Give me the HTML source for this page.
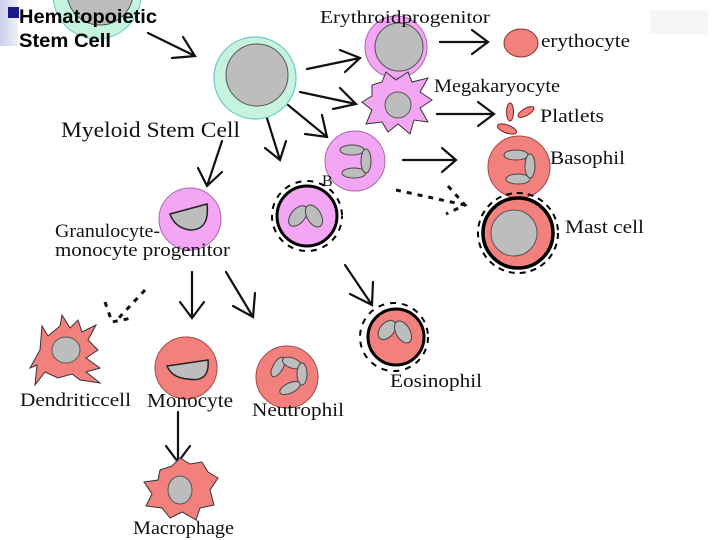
<!DOCTYPE html>
<html><head><meta charset="utf-8"><style>
html,body{margin:0;padding:0;background:#fff}
svg{display:block}
.s{font-family:"Liberation Serif",serif;fill:#111}
</style></head><body>
<svg width="720" height="540" viewBox="0 0 720 540" xmlns="http://www.w3.org/2000/svg">
<defs>
<linearGradient id="g" x1="0" x2="1"><stop offset="0" stop-color="#c9cde6"/><stop offset="1" stop-color="#eef0f8"/></linearGradient>
</defs>
<rect x="0" y="0" width="18" height="46" fill="url(#g)"/>
<rect x="650" y="10" width="58" height="24" fill="#f6f6f6"/>
<circle cx="97" cy="-5" r="44" fill="#c6f3dd" stroke="#6cc" stroke-width="1"/>
<circle cx="100" cy="-8" r="33" fill="#bdbdbd" stroke="#555" stroke-width="1"/>
<rect x="8" y="7" width="11" height="11" fill="#1a1a8c"/>
<text x="19" y="23" font-family="Liberation Sans,sans-serif" font-weight="bold" font-size="19" textLength="138" lengthAdjust="spacingAndGlyphs" fill="#000">Hematopoietic</text>
<text x="19" y="47" font-family="Liberation Sans,sans-serif" font-weight="bold" font-size="19" textLength="92" lengthAdjust="spacingAndGlyphs" fill="#000">Stem Cell</text>
<g stroke="#111" stroke-width="2.2" fill="none" stroke-linecap="round">
<path d="M148 33 L195 56 M172 58 L195 56 L183 37"/>
<path d="M307 69 L360 58 M340 50 L360 58 L345 72"/>
<path d="M300 92 L356 104 M340 88 L356 104 L333 109"/>
<path d="M288 105 L327 137 M322 115 L327 137 L305 134"/>
<path d="M266 115 L280 160 M265 148 L280 160 L286 141"/>
<path d="M222 141 L207 186 M198 168 L207 186 L222 172"/>
<path d="M440 42 L488 42 M472 30 L488 42 L472 54"/>
<path d="M437 114 L494 114 M478 102 L494 114 L478 126"/>
<path d="M403 160 L456 160 M442 148 L456 160 L442 172"/>
<path d="M192 272 L192 318 M180 302 L192 318 L204 302"/>
<path d="M226 272 L253 317 M233 306 L253 317 L255 293"/>
<path d="M345 265 L372 305 M350 294 L372 305 L373 282"/>
<path d="M178 412 L178 462 M166 446 L178 462 L190 446"/>
</g>
<g stroke="#111" stroke-width="3" fill="none" stroke-dasharray="5,6">
<path d="M396 190 L465 205 M448 186 L465 205 L446 214"/>
<path d="M145 290 L115 322 M105 302 L112 322 L132 318"/>
</g>
<circle cx="255" cy="78" r="41" fill="#c6f3dd" stroke="#6cc" stroke-width="1.2"/>
<circle cx="257" cy="75" r="31" fill="#bdbdbd" stroke="#555" stroke-width="1"/>
<text x="61" y="137" class="s" font-size="22" textLength="179" lengthAdjust="spacingAndGlyphs">Myeloid Stem Cell</text>
<circle cx="396" cy="47" r="31" fill="#f3a6f3" stroke="#a6a" stroke-width="1"/>
<circle cx="399" cy="47" r="24" fill="#bdbdbd" stroke="#555" stroke-width="1"/>
<text x="320" y="23" class="s" font-size="18" textLength="170" lengthAdjust="spacingAndGlyphs">Erythroidprogenitor</text>
<ellipse cx="521" cy="43" rx="17" ry="14" fill="#f2807c" stroke="#833" stroke-width="1"/>
<text x="541" y="47" class="s" font-size="19" textLength="89" lengthAdjust="spacingAndGlyphs">erythocyte</text>
<path d="M372 85 L382 82 L386 72 L396 80 L408 72 L412 82 L428 78 L420 92 L432 100 L420 108 L428 122 L414 120 L410 134 L398 124 L388 132 L382 122 L366 124 L372 110 L362 102 L372 96 Z" fill="#f3a6f3" stroke="#333" stroke-width="1"/>
<circle cx="398" cy="105" r="13" fill="#bdbdbd" stroke="#555" stroke-width="1"/>
<text x="434" y="92" class="s" font-size="19" textLength="126" lengthAdjust="spacingAndGlyphs">Megakaryocyte</text>
<ellipse cx="510" cy="112" rx="3.5" ry="9" fill="#f2807c" stroke="#722"/>
<ellipse cx="526" cy="112" rx="9" ry="3.5" transform="rotate(-30 526 112)" fill="#f2807c" stroke="#722"/>
<ellipse cx="507" cy="129" rx="10" ry="4" transform="rotate(20 507 129)" fill="#f2807c" stroke="#722"/>
<text x="540" y="122" class="s" font-size="19" textLength="64" lengthAdjust="spacingAndGlyphs">Platlets</text>
<circle cx="355" cy="161" r="30" fill="#f3a6f3" stroke="#a6a" stroke-width="1"/>
<g fill="#bdbdbd" stroke="#444" stroke-width="1">
<ellipse cx="352" cy="150" rx="12" ry="5"/><ellipse cx="354" cy="173" rx="12" ry="5"/><ellipse cx="366" cy="161" rx="5" ry="12"/>
</g>
<text x="322" y="186" class="s" font-size="16" fill="#333">B</text>
<circle cx="519" cy="167" r="31" fill="#f2807c" stroke="#a44" stroke-width="1"/>
<g fill="#bdbdbd" stroke="#444" stroke-width="1">
<ellipse cx="516" cy="155" rx="12" ry="5"/><ellipse cx="518" cy="179" rx="12" ry="5"/><ellipse cx="530" cy="166" rx="5" ry="12"/>
</g>
<text x="550" y="164" class="s" font-size="19" textLength="75" lengthAdjust="spacingAndGlyphs">Basophil</text>
<circle cx="518" cy="233" r="35" fill="#f2807c" stroke="#000" stroke-width="3.5"/>
<circle cx="518" cy="233" r="40" fill="none" stroke="#000" stroke-width="2" stroke-dasharray="6,5"/>
<circle cx="514" cy="233" r="23" fill="#bdbdbd" stroke="#555" stroke-width="1"/>
<text x="565" y="233" class="s" font-size="19" textLength="79" lengthAdjust="spacingAndGlyphs">Mast cell</text>
<circle cx="307" cy="216" r="30" fill="#f3a6f3" stroke="#000" stroke-width="3"/>
<circle cx="307" cy="216" r="35" fill="none" stroke="#000" stroke-width="2" stroke-dasharray="6,6" stroke-dashoffset="3"/>
<g fill="#bdbdbd" stroke="#444" stroke-width="1">
<ellipse cx="298" cy="216" rx="7" ry="12" transform="rotate(40 298 216)"/><ellipse cx="314" cy="216" rx="7" ry="12" transform="rotate(-30 314 216)"/>
</g>
<circle cx="190" cy="219" r="31" fill="#f3a6f3" stroke="#a6a" stroke-width="1"/>
<path d="M170 214 L207 204 Q210 230 190 230 Q175 228 170 214 Z" fill="#bdbdbd" stroke="#222" stroke-width="1.5"/>
<text x="55" y="237" class="s" font-size="19" textLength="105" lengthAdjust="spacingAndGlyphs">Granulocyte-</text>
<text x="55" y="256" class="s" font-size="19" textLength="175" lengthAdjust="spacingAndGlyphs">monocyte progenitor</text>
<circle cx="396" cy="337" r="28" fill="#f2807c" stroke="#000" stroke-width="3"/>
<circle cx="394" cy="337" r="34" fill="none" stroke="#000" stroke-width="2" stroke-dasharray="6,6"/>
<g fill="#bdbdbd" stroke="#444" stroke-width="1">
<ellipse cx="387" cy="330" rx="7" ry="11" transform="rotate(40 387 330)"/><ellipse cx="403" cy="332" rx="7" ry="12" transform="rotate(-30 403 332)"/>
</g>
<text x="390" y="387" class="s" font-size="19" textLength="92" lengthAdjust="spacingAndGlyphs">Eosinophil</text>
<path d="M42 326 L48 336 L60 326 L62 315 L70 328 L78 320 L82 332 L96 325 L88 340 L98 350 L86 358 L100 368 L86 372 L100 383 L80 380 L72 374 L58 378 L45 372 L35 385 L37 365 L30 368 L40 350 Z" fill="#f2807c" stroke="#333" stroke-width="1"/>
<ellipse cx="66" cy="350" rx="14" ry="13" fill="#bdbdbd" stroke="#555"/>
<text x="20" y="406" class="s" font-size="19" textLength="111" lengthAdjust="spacingAndGlyphs">Dendriticcell</text>
<circle cx="186" cy="368" r="31" fill="#f2807c" stroke="#a44" stroke-width="1"/>
<path d="M167 366 L208 360 Q210 383 188 379 Q172 378 167 366 Z" fill="#bdbdbd" stroke="#222" stroke-width="1.5"/>
<text x="147" y="407" class="s" font-size="20" textLength="86" lengthAdjust="spacingAndGlyphs">Monocyte</text>
<circle cx="287" cy="377" r="31" fill="#f2807c" stroke="#a44" stroke-width="1"/>
<g fill="#bdbdbd" stroke="#444" stroke-width="1">
<ellipse cx="278" cy="367" rx="5" ry="11" transform="rotate(30 278 367)"/><ellipse cx="292" cy="363" rx="10" ry="5" transform="rotate(20 292 363)"/><ellipse cx="302" cy="374" rx="5" ry="11"/><ellipse cx="290" cy="388" rx="11" ry="5" transform="rotate(-25 290 388)"/>
</g>
<text x="252" y="416" class="s" font-size="19" textLength="92" lengthAdjust="spacingAndGlyphs">Neutrophil</text>
<path d="M160 470 L172 466 L180 458 L190 464 L202 462 L208 472 L218 478 L210 490 L214 505 L200 508 L196 520 L182 512 L170 518 L162 508 L146 506 L152 494 L144 482 L158 480 Z" fill="#f2807c" stroke="#333" stroke-width="1"/>
<ellipse cx="180" cy="490" rx="12" ry="14" fill="#bdbdbd" stroke="#555"/>
<text x="133" y="534" class="s" font-size="19" textLength="101" lengthAdjust="spacingAndGlyphs">Macrophage</text>
</svg>
</body></html>
